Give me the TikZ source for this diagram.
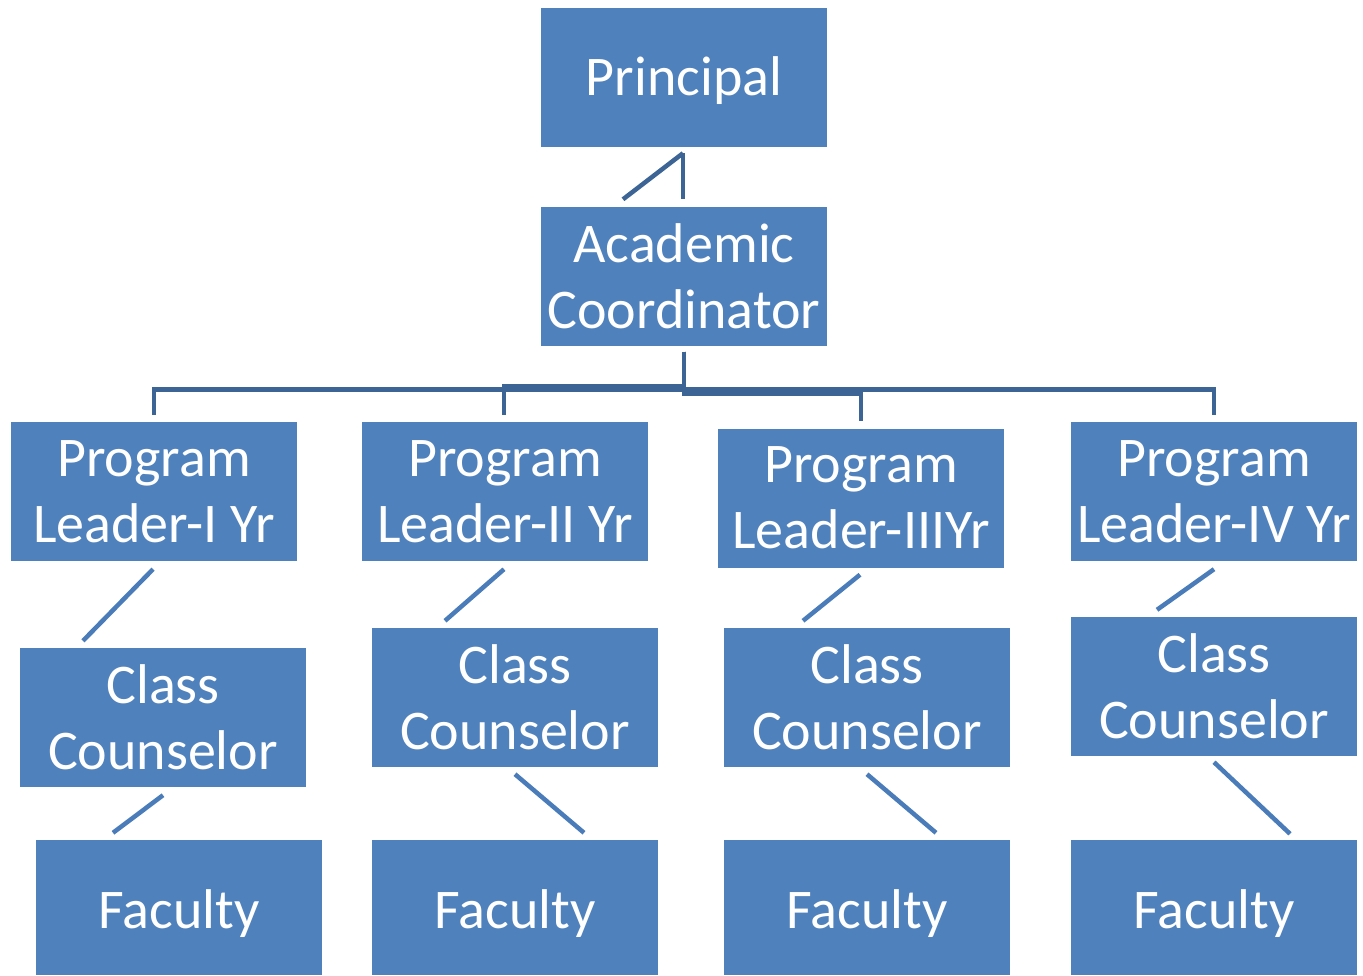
\documentclass[tikz,border=0pt]{standalone}
\usepackage{fontspec}
\setmainfont{Carlito}
\usetikzlibrary{calc}
\definecolor{boxblue}{RGB}{79,129,189}
\definecolor{busblue}{RGB}{60,100,148}
\definecolor{diagblue}{RGB}{74,124,185}
\tikzset{
  orgbox/.style={fill=boxblue, text=white, minimum width=286pt, minimum height=139pt,
    inner sep=0pt, align=center, font=\fontsize{56}{66}\selectfont},
  facbox/.style={orgbox, minimum height=135pt},
  busline/.style={draw=busblue, line width=4.5pt},
  diagline/.style={draw=diagblue, line width=4.5pt}
}
\begin{document}
\begin{tikzpicture}[x=1pt,y=-1pt]
\useasboundingbox (0,0) rectangle (1363,975);
% nodes
\node[orgbox] (pr)  at (684,77.5) {\raisebox{-3pt}[\height][\depth]{Principal}};
\node[orgbox] (ac)  at (684,276) {Academic\\Coordinator};
\node[orgbox] (pl1) at (154,491.5) {Program\\Leader-I Yr};
\node[orgbox] (pl2) at (505,491.5) {Program\\Leader-II Yr};
\node[orgbox] (pl3) at (861,498) {Program\\Leader-IIIYr};
\node[orgbox] (pl4) at (1214,491.5) {Program\\Leader-IV Yr};
\node[orgbox] (cc1) at (163,717.5) {Class\\Counselor};
\node[orgbox] (cc2) at (515,697.5) {Class\\Counselor};
\node[orgbox] (cc3) at (867,697.5) {Class\\Counselor};
\node[orgbox] (cc4) at (1214,686.5) {Class\\Counselor};
\node[facbox] (f1) at (179,907.5) {\raisebox{-6pt}[\height][\depth]{Faculty}};
\node[facbox] (f2) at (515,907.5) {\raisebox{-6pt}[\height][\depth]{Faculty}};
\node[facbox] (f3) at (867,907.5) {\raisebox{-6pt}[\height][\depth]{Faculty}};
\node[facbox] (f4) at (1214,907.5) {\raisebox{-6pt}[\height][\depth]{Faculty}};
% principal - coordinator
\draw[busline] ($(pr.south)+(-1,6)$) -- ($(ac.north)+(-1,-7)$);
\draw[busline] ($(pr.south)+(-1,6)$) -- ($(ac.north)+(-61,-7)$);
% coordinator - program leaders
\draw[busline] ($(ac.south)+(0,6)$) -- ++(0,38) -| ($(pl1.north)+(0,-7)$);
\draw[busline] ($(ac.south)+(0,6)$) -- ++(0,35) -| ($(pl2.north)+(-1,-7)$);
\draw[busline] ($(ac.south)+(0,6)$) -- ++(0,42) -| ($(pl3.north)+(0,-7)$);
\draw[busline] ($(ac.south)+(0,6)$) -- ++(0,38) -| ($(pl4.north)+(0,-7)$);
% program leaders - class counselors
\draw[diagline] ($(pl1.south)+(-1,8)$) -- ($(cc1.north)+(-80,-7)$);
\draw[diagline] ($(pl2.south)+(-1,8)$) -- ($(cc2.north)+(-70,-7)$);
\draw[diagline] ($(pl3.south)+(-1,7)$) -- ($(cc3.north)+(-64,-7)$);
\draw[diagline] ($(pl4.south)+(0,8)$) -- ($(cc4.north)+(-57,-7)$);
% class counselors - faculty
\draw[diagline] ($(cc1.south)+(0,8)$) -- ($(f1.north)+(-66,-7)$);
\draw[diagline] ($(cc2.south)+(0,7)$) -- ($(f2.north)+(69,-7)$);
\draw[diagline] ($(cc3.south)+(0,7)$) -- ($(f3.north)+(69,-7)$);
\draw[diagline] ($(cc4.south)+(0,6)$) -- ($(f4.north)+(76,-6)$);
\end{tikzpicture}
\end{document}
